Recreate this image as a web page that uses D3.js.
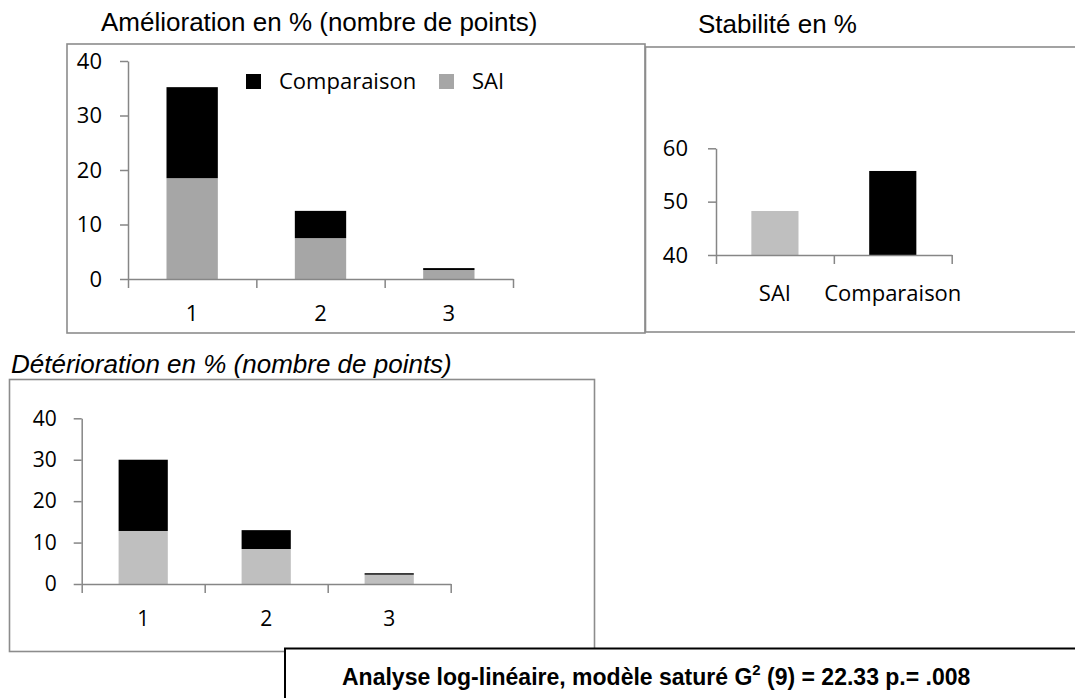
<!DOCTYPE html>
<html>
<head>
<meta charset="utf-8">
<script src="https://cdn.jsdelivr.net/npm/d3@7"></script>
<style>
  html, body { margin: 0; padding: 0; background: #fff; }
  svg { display: block; }
</style>
</head>
<body>
<svg id="chart" width="1075" height="698"></svg>
<script>
// ---------- data ----------
const categories = ["1", "2", "3"];
const seriesNames = ["SAI", "Comparaison"];
const ameliorationSAI = [18.5, 7.5, 1.65];
const ameliorationComparaison = [16.7, 5.0, 0.35];
const deteriorationSAI = [12.8, 8.45, 2.25];
const deteriorationComparaison = [17.2, 4.55, 0.35];
const stabiliteGroups = ["SAI", "Comparaison"];
const stabiliteValues = [48.25, 55.75];
const stackTicks = [0, 10, 20, 30, 40];
const stabTicks = [40, 50, 60];
const titles = {
  amelioration: "Amélioration en % (nombre de points)",
  stabilite: "Stabilité en %",
  deterioration: "Détérioration en % (nombre de points)"
};

const svg = d3.select("#chart");
const AXIS = "#868686";
const BOX = "#8c8c8c";
const chartFont = "'Open Sans', sans-serif";
const titleFont = "'Liberation Sans', Arial, sans-serif";

// ---------- frames ----------
svg.append("rect").attr("x", 67).attr("y", 44).attr("width", 578).attr("height", 289)
  .attr("fill", "none").attr("stroke", BOX).attr("stroke-width", 1.6);
svg.append("rect").attr("x", 645.5).attr("y", 47).attr("width", 600).attr("height", 285)
  .attr("fill", "none").attr("stroke", BOX).attr("stroke-width", 1.6);
svg.append("rect").attr("x", 9.5).attr("y", 379.5).attr("width", 585).attr("height", 272)
  .attr("fill", "none").attr("stroke", BOX).attr("stroke-width", 1.6);

// ---------- titles ----------
svg.append("text").attr("x", 101).attr("y", 31).text(titles.amelioration)
  .attr("font-family", titleFont).attr("font-size", 26).attr("fill", "#000");
svg.append("text").attr("x", 698).attr("y", 33).text(titles.stabilite)
  .attr("font-family", titleFont).attr("font-size", 26).attr("fill", "#000");
svg.append("text").attr("x", 11).attr("y", 373).text(titles.deterioration)
  .attr("font-family", titleFont).attr("font-size", 26).attr("font-style", "italic").attr("fill", "#000");

function styleAxis(g, fontSize) {
  g.select(".domain").attr("stroke", AXIS).attr("stroke-width", 1.5);
  g.selectAll(".tick line").attr("stroke", AXIS).attr("stroke-width", 1.5);
  g.selectAll(".tick text").attr("font-family", chartFont).attr("font-size", fontSize).attr("fill", "#000");
}

// ---------- stacked chart ----------
function stacked(opt) {
  const { sai, comp, x0, x1, yBottom, yTop, saiColor, fontSize, yPad, xLabelOffset } = opt;
  const data = categories.map((c, i) => ({ cat: c, SAI: sai[i], Comparaison: comp[i] }));
  const x = d3.scaleBand().domain(categories).range([x0, x1]).paddingInner(0.6).paddingOuter(0.3);
  const xb = d3.scaleLinear().domain([0, categories.length]).range([x0, x1]);
  const y = d3.scaleLinear().domain([0, 40]).range([yBottom, yTop]);
  const stack = d3.stack().keys(seriesNames)(data);
  const color = d3.scaleOrdinal().domain(seriesNames).range([saiColor, "#000000"]);

  svg.append("g").selectAll("g").data(stack).join("g")
    .attr("fill", d => color(d.key))
    .selectAll("rect").data(d => d).join("rect")
    .attr("x", d => x(d.data.cat))
    .attr("width", x.bandwidth())
    .attr("y", d => y(d[1]))
    .attr("height", d => y(d[0]) - y(d[1]));

  const gy = svg.append("g").attr("transform", `translate(${x0},0)`)
    .call(d3.axisLeft(y).tickValues(stackTicks).tickSize(8).tickPadding(yPad).tickSizeOuter(0));
  styleAxis(gy, fontSize);

  const gxb = svg.append("g").attr("transform", `translate(0,${yBottom})`)
    .call(d3.axisBottom(xb).tickValues(d3.range(0, categories.length + 1)).tickSize(9).tickFormat("").tickSizeOuter(0));
  styleAxis(gxb, fontSize);

  const gx = svg.append("g").attr("transform", `translate(0,${yBottom})`)
    .call(d3.axisBottom(x).tickSize(0).tickPadding(xLabelOffset));
  gx.select(".domain").remove();
  styleAxis(gx, fontSize);
  return { x, y };
}

stacked({ sai: ameliorationSAI, comp: ameliorationComparaison, x0: 128, x1: 513,
  yBottom: 279, yTop: 61, saiColor: "#a6a6a6", fontSize: 22, yPad: 18, xLabelOffset: 26 });

stacked({ sai: deteriorationSAI, comp: deteriorationComparaison, x0: 81.7, x1: 450.7,
  yBottom: 584, yTop: 418.3, saiColor: "#bfbfbf", fontSize: 21, yPad: 17, xLabelOffset: 27 });

// ---------- legend (top-left) ----------
const legendItems = [
  { name: "Comparaison", color: "#000000", x: 246 },
  { name: "SAI", color: "#a6a6a6", x: 439 }
];
const lg = svg.append("g");
legendItems.forEach(it => {
  lg.append("rect").attr("x", it.x).attr("y", 74).attr("width", 15).attr("height", 15).attr("fill", it.color);
  lg.append("text").attr("x", it.x + 33).attr("y", 89).text(it.name)
    .attr("font-family", chartFont).attr("font-size", 22).attr("fill", "#000");
});

// ---------- stabilité chart ----------
(function () {
  const x0 = 716, x1 = 951.7, yB = 255, yT = 148.3;
  const x = d3.scaleBand().domain(stabiliteGroups).range([x0, x1]).paddingInner(0.6).paddingOuter(0.3);
  const xb = d3.scaleLinear().domain([0, stabiliteGroups.length]).range([x0, x1]);
  const y = d3.scaleLinear().domain([40, 60]).range([yB, yT]);
  const col = d3.scaleOrdinal().domain(stabiliteGroups).range(["#bfbfbf", "#000000"]);
  svg.append("g").selectAll("rect").data(stabiliteGroups).join("rect")
    .attr("x", d => x(d)).attr("width", x.bandwidth())
    .attr("y", (d, i) => y(stabiliteValues[i]))
    .attr("height", (d, i) => yB - y(stabiliteValues[i]))
    .attr("fill", d => col(d));
  const gy = svg.append("g").attr("transform", `translate(${x0},0)`)
    .call(d3.axisLeft(y).tickValues(stabTicks).tickSize(8).tickPadding(20).tickSizeOuter(0));
  styleAxis(gy, 22);
  const gxb = svg.append("g").attr("transform", `translate(0,${yB})`)
    .call(d3.axisBottom(xb).tickValues(d3.range(0, stabiliteGroups.length + 1)).tickSize(9).tickFormat("").tickSizeOuter(0));
  styleAxis(gxb, 22);
  const gx = svg.append("g").attr("transform", `translate(0,${yB})`)
    .call(d3.axisBottom(x).tickSize(0).tickPadding(30));
  gx.select(".domain").remove();
  styleAxis(gx, 22);
})();

// ---------- note box ----------
svg.append("rect").attr("x", 285).attr("y", 648.5).attr("width", 900).attr("height", 100)
  .attr("fill", "#fff").attr("stroke", "#000").attr("stroke-width", 2);
const note = svg.append("text").attr("x", 342).attr("y", 685)
  .attr("font-family", titleFont).attr("font-size", 23).attr("font-weight", "bold").attr("fill", "#000");
note.append("tspan").text("Analyse log-linéaire, modèle saturé G");
note.append("tspan").text("2").attr("font-size", 15).attr("dy", -10);
note.append("tspan").text(" (9) = 22.33 p.= .008").attr("dy", 10);
</script>
</body>
</html>
